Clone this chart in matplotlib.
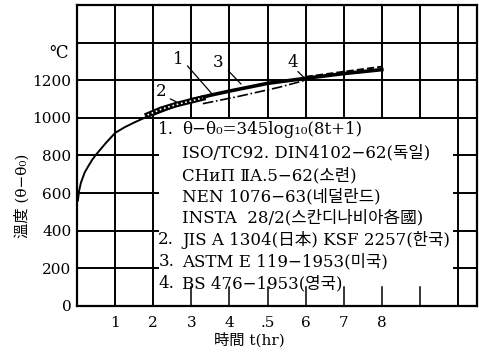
import numpy as np
from matplotlib import pyplot as plt
from matplotlib.patches import Rectangle

# curve 1 (ISO / standard)
t_main = [0.02, 0.05, 0.1, 0.2, 0.3, 0.4, 0.5, 0.75, 1, 1.25, 1.5, 1.75,
          2, 2.5, 3, 3.5, 4, 5, 6, 7, 8]
T_main = [560, 610, 655, 710, 745, 778, 805, 865, 920, 950, 975, 998,
          1020, 1060, 1095, 1120, 1142, 1183, 1210, 1235, 1256]

# curve 2 (JIS / KS)
t_jis = [1.85, 2.2, 2.6, 3.0, 3.3]
T_jis = [1015, 1045, 1070, 1090, 1105]

# curve 3 (ASTM)
t_astm = [3.3, 4.2, 5.3, 6.0]
T_astm = [1075, 1112, 1162, 1200]

# curve 4 (BS)
t_bs = [6.0, 7.0, 8.0]
T_bs = [1218, 1245, 1272]

xticks = [1, 2, 3, 4, 5, 6, 7, 8]
xticklabels = ['1', '2', '3', '4', '.5', '6', '7', '8']
yticks = [0, 200, 400, 600, 800, 1000, 1200]

legend_lines = [
    ('1.', 'θ−θ₀=345log₁₀(8t+1)'),
    ('', 'ISO/TC92. DIN4102−62(독일)'),
    ('', 'CHиП ⅡA.5−62(소련)'),
    ('', 'NEN 1076−63(네덜란드)'),
    ('', 'INSTA  28/2(스칸디나비아各國)'),
    ('2.', 'JIS A 1304(日本) KSF 2257(한국)'),
    ('3.', 'ASTM E 119−1953(미국)'),
    ('4.', 'BS 476−1953(영국)'),
]
legend_y = [939, 816, 693, 581, 469, 352, 235, 117]

fam = ['DejaVu Serif', 'Noto Sans CJK KR']
plt.rcParams['font.family'] = fam

fig = plt.figure(figsize=(4.79, 3.52), dpi=100, facecolor='w')
ax = fig.add_axes([0.161, 0.131, 0.835, 0.855])
ax.set_xlim(0, 10.5)
ax.set_ylim(0, 1600)

# grid
for x in range(1, 11):
    ax.plot([x, x], [0, 1600], 'k', lw=1.4, zorder=1)
for y in range(200, 1600, 200):
    ax.plot([0, 10.5], [y, y], 'k', lw=1.4, zorder=1)

# white box behind the text
ax.add_patch(Rectangle((2.04, 4), 7.92, 990, facecolor='w', edgecolor='none', zorder=2))
for y in [200, 400, 600, 800]:
    ax.plot([2, 2.12], [y, y], 'k', lw=1.4, zorder=3)
    ax.plot([9.9, 10], [y, y], 'k', lw=1.4, zorder=3)
for x in range(3, 10):
    ax.plot([x, x], [0, 100], 'k', lw=1.1, zorder=3)

# curves
ax.plot(t_main, T_main, 'k', lw=1.4, zorder=4)
ax.plot(t_main[12:], T_main[12:], 'k', lw=2.6, zorder=4)
ax.plot(t_jis, T_jis, 'k', lw=4, zorder=4)
ax.plot(t_jis, T_jis, color='w', lw=1.2, ls=':', zorder=5)
ax.plot(t_astm, T_astm, 'k', lw=1.2, ls='-.', zorder=4)
ax.plot(t_bs, T_bs, 'k', lw=1.4, ls='--', zorder=4)

# curve numbers with leaders
ax.text(2.65, 1310, '1', fontsize=12, ha='center', va='center')
ax.plot([2.9, 3.55], [1275, 1125], 'k', lw=0.9)
ax.text(3.7, 1295, '3', fontsize=12, ha='center', va='center')
ax.plot([3.97, 4.3], [1250, 1180], 'k', lw=0.9)
ax.text(2.2, 1140, '2', fontsize=12, ha='center', va='center')
ax.plot([2.45, 2.6], [1100, 1085], 'k', lw=0.9)
ax.text(5.66, 1295, '4', fontsize=12, ha='center', va='center')
ax.plot([5.8, 5.95], [1245, 1215], 'k', lw=0.9)

# legend text
for (num, txt), y in zip(legend_lines, legend_y):
    if num:
        ax.text(2.13, y, num, fontsize=12, va='center', zorder=6)
    ax.text(2.76, y, txt, fontsize=12, va='center', zorder=6)

for s in ax.spines.values():
    s.set_linewidth(1.6)
ax.set_xticks(xticks)
ax.set_xticklabels(xticklabels, fontsize=11)
ax.set_yticks(yticks)
ax.set_yticklabels([str(v) for v in yticks], fontsize=11)
ax.tick_params(axis='x', length=0, pad=7)
ax.tick_params(axis='y', length=0, pad=4)
ax.text(-0.5, 1340, '℃', fontsize=12, ha='center', va='center')

fig.text(0.52, 0.035, '時間 t(hr)', fontsize=11, ha='center', va='center')
fig.text(0.045, 0.445, '溫度 (θ−θ₀)', fontsize=11, ha='center', va='center', rotation=90)

plt.savefig('out.png', dpi=100)
